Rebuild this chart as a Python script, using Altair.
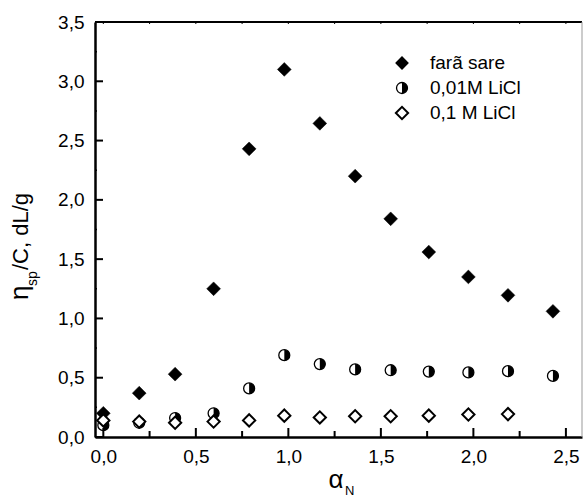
import altair as alt
import pandas as pd

# ---- data ----
alpha_fara = [0.0, 0.194, 0.388, 0.596, 0.788, 0.978, 1.17, 1.361, 1.553, 1.759, 1.973, 2.187, 2.43]
eta_fara = [0.20, 0.37, 0.53, 1.25, 2.43, 3.10, 2.645, 2.20, 1.84, 1.56, 1.35, 1.195, 1.06]

alpha_001 = [0.0, 0.194, 0.388, 0.596, 0.788, 0.978, 1.17, 1.361, 1.553, 1.759, 1.973, 2.187, 2.43]
eta_001 = [0.10, 0.12, 0.16, 0.20, 0.41, 0.69, 0.615, 0.57, 0.563, 0.552, 0.545, 0.555, 0.515]

alpha_01 = [0.0, 0.194, 0.388, 0.596, 0.788, 0.978, 1.17, 1.361, 1.553, 1.759, 1.973, 2.187]
eta_01 = [0.14, 0.13, 0.12, 0.13, 0.14, 0.18, 0.165, 0.175, 0.175, 0.18, 0.19, 0.193]

legend_labels = ["farã sare", "0,01M LiCl", "0,1 M LiCl"]

x_major = [0.0, 0.5, 1.0, 1.5, 2.0, 2.5]
x_minor = [0.25, 0.75, 1.25, 1.75, 2.25]
y_major = [0.0, 0.5, 1.0, 1.5, 2.0, 2.5, 3.0, 3.5]
y_minor = [0.25, 0.75, 1.25, 1.75, 2.25, 2.75, 3.25]

# ---- layout / style ----
W, H = 487, 415
FONT = "Liberation Sans"
HALF = "M0,-1A1,1,0,0,1,0,1Z"
label_expr = "replace(format(datum.value, '.1f'), '.', ',')"

xs = alt.Scale(domain=[-0.045, 2.587], nice=False, zero=False)
ys = alt.Scale(domain=[0, 3.5], nice=False, zero=False)

x_axis = alt.Axis(values=x_major, labelExpr=label_expr, ticks=False, grid=False,
                  domainColor="black", domainWidth=2.5, labelFont=FONT, labelFontSize=19,
                  labelColor="black", labelPadding=10, title=None)
y_axis = alt.Axis(values=y_major, labelExpr=label_expr, ticks=False, grid=False,
                  domainColor="black", domainWidth=2.5, labelFont=FONT, labelFontSize=19,
                  labelColor="black", labelPadding=11, title=None)

X = alt.X("x:Q", scale=xs, axis=x_axis, title=None)
Y = alt.Y("y:Q", scale=ys, axis=y_axis, title=None)


def df(xv, yv):
    return pd.DataFrame({"x": xv, "y": yv})


one = pd.DataFrame({"k": [0]})

layers = []

# series
layers.append(alt.Chart(df(alpha_fara, eta_fara)).mark_point(
    shape="diamond", filled=True, fill="black", stroke="black", strokeWidth=0.5,
    size=190, opacity=1).encode(x=X, y=Y))
layers.append(alt.Chart(df(alpha_001, eta_001)).mark_point(
    shape="circle", filled=True, fill="white", stroke="black", strokeWidth=1.3,
    size=120, opacity=1).encode(x=X, y=Y))
layers.append(alt.Chart(df(alpha_001, eta_001)).mark_point(
    shape=HALF, filled=True, fill="black", size=120, opacity=1).encode(x=X, y=Y))
layers.append(alt.Chart(df(alpha_01, eta_01)).mark_point(
    shape="diamond", filled=True, fill="white", stroke="black", strokeWidth=2,
    size=150, opacity=1).encode(x=X, y=Y))

# inward ticks
layers.append(alt.Chart(pd.DataFrame({"x": x_major})).mark_rule(color="black", strokeWidth=2).encode(
    x=X, y=alt.value(H), y2=alt.value(H - 9)))
layers.append(alt.Chart(pd.DataFrame({"x": x_minor})).mark_rule(color="black", strokeWidth=2).encode(
    x=X, y=alt.value(H), y2=alt.value(H - 6)))
layers.append(alt.Chart(pd.DataFrame({"x": x_major + x_minor})).mark_rule(color="black", strokeWidth=1).encode(
    x=X, y=alt.value(0), y2=alt.value(2)))
layers.append(alt.Chart(pd.DataFrame({"y": y_major})).mark_rule(color="black", strokeWidth=2).encode(
    y=Y, x=alt.value(0), x2=alt.value(8)))
layers.append(alt.Chart(pd.DataFrame({"y": y_minor})).mark_rule(color="black", strokeWidth=1.5).encode(
    y=Y, x=alt.value(0), x2=alt.value(2)))

# frame top / right
layers.append(alt.Chart(one).mark_rule(color="black", strokeWidth=2).encode(
    x=alt.value(0), x2=alt.value(W), y=alt.value(0)))
layers.append(alt.Chart(one).mark_rule(color="#999999", strokeWidth=1).encode(
    x=alt.value(W), y=alt.value(0), y2=alt.value(H)))

# legend
LX, LT = 307, 430 - 95
leg_y = [41, 66, 91]
layers.append(alt.Chart(one).mark_point(shape="diamond", filled=True, fill="black", size=190, opacity=1).encode(
    x=alt.value(LX), y=alt.value(leg_y[0])))
layers.append(alt.Chart(one).mark_point(shape="circle", filled=True, fill="white", stroke="black",
                                        strokeWidth=1.3, size=120, opacity=1).encode(
    x=alt.value(LX), y=alt.value(leg_y[1])))
layers.append(alt.Chart(one).mark_point(shape=HALF, filled=True, fill="black", size=120, opacity=1).encode(
    x=alt.value(LX), y=alt.value(leg_y[1])))
layers.append(alt.Chart(one).mark_point(shape="diamond", filled=True, fill="white", stroke="black",
                                        strokeWidth=2, size=150, opacity=1).encode(
    x=alt.value(LX), y=alt.value(leg_y[2])))
for i, lab in enumerate(legend_labels):
    layers.append(alt.Chart(pd.DataFrame({"t": [lab]})).mark_text(
        font=FONT, fontSize=19, align="left", baseline="middle", color="black").encode(
        text="t:N", x=alt.value(LT), y=alt.value(leg_y[i])))

# axis titles (with subscripts)
def txt(s, x, y, size, angle=0, align="left"):
    kw = dict(font=FONT, fontSize=size, align=align, baseline="alphabetic", color="black")
    if angle:
        kw["angle"] = angle
    return alt.Chart(pd.DataFrame({"t": [s]})).mark_text(**kw).encode(
        text="t:N", x=alt.value(x), y=alt.value(y))

layers.append(txt("α", 241, 466, 26, align="center"))
layers.append(txt("N", 250, 473, 13))
layers.append(txt("η", -67, 278, 26, angle=270))
layers.append(txt("sp", -58, 264, 14, angle=270))
layers.append(txt("/C, dL/g", -67, 248, 22, angle=270))

chart = alt.layer(*layers).properties(
    width=W, height=H, autosize="none",
    padding={"left": 95, "top": 22, "right": 2, "bottom": 60},
).configure_view(stroke=None)

chart.save("out.html", embed_options={"renderer": "svg", "actions": False})
